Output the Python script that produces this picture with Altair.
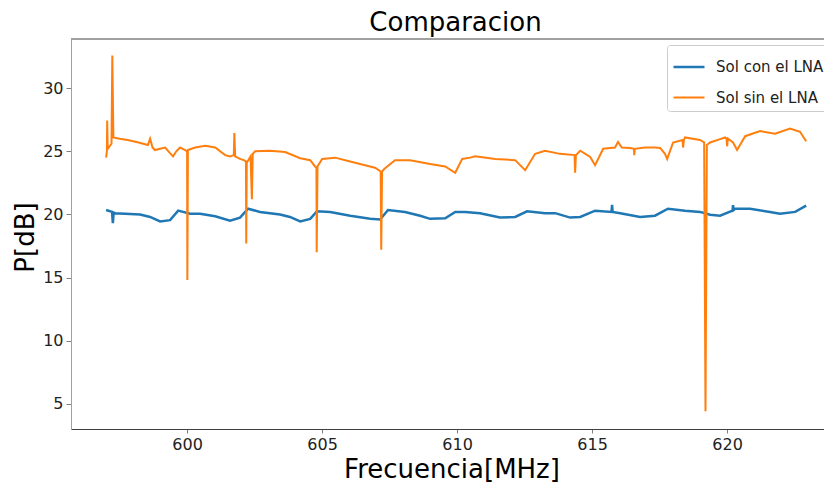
import altair as alt
import pandas as pd

# Sol con el LNA (blue)
freq_con = [597.00, 597.22, 597.25, 597.28, 597.33, 598.26, 598.63, 599.00, 599.37, 599.67,
            599.85, 600.11, 600.48, 601.04, 601.59, 601.96, 602.26, 602.70, 603.44, 603.81,
            604.19, 604.56, 604.81, 605.30, 606.04, 606.78, 607.15, 607.44, 608.07, 608.63,
            609.00, 609.56, 609.93, 610.30, 610.85, 611.59, 612.15, 612.59, 613.26, 613.63,
            614.19, 614.56, 615.11, 615.72, 615.74, 615.76, 616.04, 616.78, 617.33, 617.81,
            618.44, 619.00, 619.37, 619.74, 620.20, 620.22, 620.24, 620.30, 620.85, 621.59,
            621.96, 622.52, 622.93]
pow_con = [20.35, 20.2, 19.3, 20.15, 20.1, 20.0, 19.8, 19.45, 19.55, 20.3,
           20.2, 20.05, 20.05, 19.85, 19.5, 19.75, 20.45, 20.2, 20.0, 19.8,
           19.45, 19.65, 20.25, 20.2, 19.9, 19.65, 19.6, 20.35, 20.2, 19.9,
           19.65, 19.7, 20.2, 20.2, 20.1, 19.75, 19.8, 20.25, 20.1, 20.1,
           19.75, 19.8, 20.3, 20.2, 20.76, 20.2, 20.1, 19.8, 19.9, 20.45,
           20.3, 20.2, 19.97, 19.9, 20.3, 20.74, 20.35, 20.45, 20.45, 20.2,
           20.05, 20.2, 20.7]

# Sol sin el LNA (orange)
freq_sin = [597.00, 597.03, 597.04, 597.06, 597.20, 597.23, 597.27, 597.5, 597.8, 598.2,
            598.55, 598.63, 598.72, 598.81, 599.0, 599.19, 599.35, 599.48, 599.6, 599.74,
            599.93, 600.00, 600.01, 600.03, 600.30, 600.67, 601.04, 601.41, 601.59, 601.73,
            601.75, 601.78, 601.96, 602.10, 602.18, 602.19, 602.21, 602.35, 602.40, 602.43,
            602.52, 603.07, 603.63, 604.19, 604.56, 604.74, 604.79, 604.80, 604.83, 605.0,
            605.48, 606.04, 606.59, 606.96, 607.17, 607.19, 607.22, 607.30, 607.70, 608.26,
            609.0, 609.56, 609.93, 610.19, 610.48, 610.67, 611.41, 612.15, 612.52, 612.89,
            613.26, 613.81, 614.35, 614.37, 614.40, 614.56, 614.93, 615.11, 615.41, 615.85,
            615.96, 616.10, 616.41, 616.55, 616.56, 616.58, 616.96, 617.33, 617.52, 617.70,
            617.78, 618.0, 618.35, 618.37, 618.40, 618.44, 619.0, 619.15, 619.2, 619.25,
            619.37, 619.74, 619.93, 619.98, 620.00, 620.03, 620.22, 620.37, 620.67, 621.22,
            621.78, 622.33, 622.70, 622.93]
pow_sin = [24.5, 25.0, 27.45, 25.2, 25.6, 32.6, 26.1, 26.0, 25.9, 25.7,
           25.5, 26.0, 25.3, 25.1, 25.2, 25.3, 24.9, 24.6, 25.0, 25.3,
           25.1, 25.0, 14.8, 25.1, 25.3, 25.45, 25.3, 24.7, 24.6, 24.7,
           26.45, 24.6, 24.4, 24.3, 24.2, 17.7, 24.1, 24.6, 21.2, 24.8,
           25.0, 25.05, 24.95, 24.45, 24.3, 23.8, 23.7, 17.0, 23.8, 24.4,
           24.5, 24.2, 23.9, 23.7, 23.4, 17.2, 23.4, 23.6, 24.3, 24.3,
           24.0, 23.8, 23.3, 24.4, 24.5, 24.6, 24.4, 24.3, 23.5, 24.8,
           25.05, 24.8, 24.7, 23.3, 24.7, 25.05, 24.55, 23.9, 25.2, 25.3,
           25.75, 25.3, 25.27, 25.2, 24.7, 25.2, 25.3, 25.3, 25.27, 24.8,
           24.4, 25.7, 25.9, 25.3, 25.9, 26.1, 25.9, 25.7, 4.4, 25.5,
           25.7, 25.97, 26.1, 26.0, 25.4, 26.0, 25.7, 25.1, 26.2, 26.6,
           26.4, 26.8, 26.55, 25.8]

series_names = ["Sol con el LNA", "Sol sin el LNA"]
series_colors = ["#1f77b4", "#ff7f0e"]
series_widths = [2.5, 2.0]
x_ticks = [600, 605, 610, 615, 620]
y_ticks = [5, 10, 15, 20, 25, 30]

df = pd.concat([
    pd.DataFrame({"f": freq_con, "p": pow_con, "serie": series_names[0], "k": 0}),
    pd.DataFrame({"f": freq_sin, "p": pow_sin, "serie": series_names[1], "k": 1}),
], ignore_index=True)

PL, PT, PR = 63, 31, 0
W, H = 753, 390
PB = 480 - PT - H
FONT = "DejaVu Sans"
X0 = 595.7
X1 = X0 + W / 27.0

lines = alt.Chart(df).mark_line(clip=True).encode(
    x=alt.X("f:Q", scale=alt.Scale(domain=[X0, X1], nice=False, zero=False),
            axis=alt.Axis(values=x_ticks, title="Frecuencia[MHz]", grid=False,
                          domainColor="#404040", tickColor="#808080", tickSize=4,
                          labelFontSize=16, labelColor="#222222", labelPadding=3,
                          titleFontSize=26, titleFontWeight="normal", titleColor="#000000",
                          titleY=27, titleX=W / 2 + 4, titleBaseline="top",
                          labelFont=FONT, titleFont=FONT)),
    y=alt.Y("p:Q", scale=alt.Scale(domain=[3.0, 33.9], nice=False, zero=False),
            axis=alt.Axis(values=y_ticks, title="P[dB]", grid=False,
                          domainColor="#a0a0a0", tickColor="#808080", tickSize=5,
                          labelFontSize=16, labelColor="#222222", labelPadding=3,
                          titleFontSize=26, titleFontWeight="normal", titleColor="#000000",
                          titleX=-33, titleY=H / 2 + 3, titleBaseline="bottom",
                          labelFont=FONT, titleFont=FONT)),
    color=alt.Color("serie:N", scale=alt.Scale(domain=series_names, range=series_colors),
                    legend=alt.Legend(title=None, orient="none", legendX=596, legendY=6,
                                      symbolType="stroke", symbolSize=961, symbolStrokeWidth=1.5,
                                      labelFontSize=15, labelFont=FONT, labelColor="#222222",
                                      fillColor="white", strokeColor="#cccccc", cornerRadius=3,
                                      padding=5, rowPadding=6, labelOffset=10)),
    strokeWidth=alt.StrokeWidth("serie:N", scale=alt.Scale(domain=series_names, range=series_widths),
                                legend=None),
    detail="k:N",
)

top_spine = alt.Chart(df).mark_rule(color="#a0a0a0", strokeWidth=1).encode(
    x=alt.value(0), x2=alt.value(W), y=alt.value(0)
)

chart = alt.layer(lines, top_spine).properties(
    width=W, height=H,
    title=alt.Title("Comparacion", fontSize=26, font=FONT, fontWeight="normal",
                    color="#000000", anchor="middle", offset=3, dx=8),
    padding={"left": PL, "top": PT, "right": PR, "bottom": PB},
    autosize=alt.AutoSizeParams(type="none"),
).configure_view(stroke=None).configure(font=FONT)

chart.save("out.html", embed_options={"renderer": "svg", "actions": False})
